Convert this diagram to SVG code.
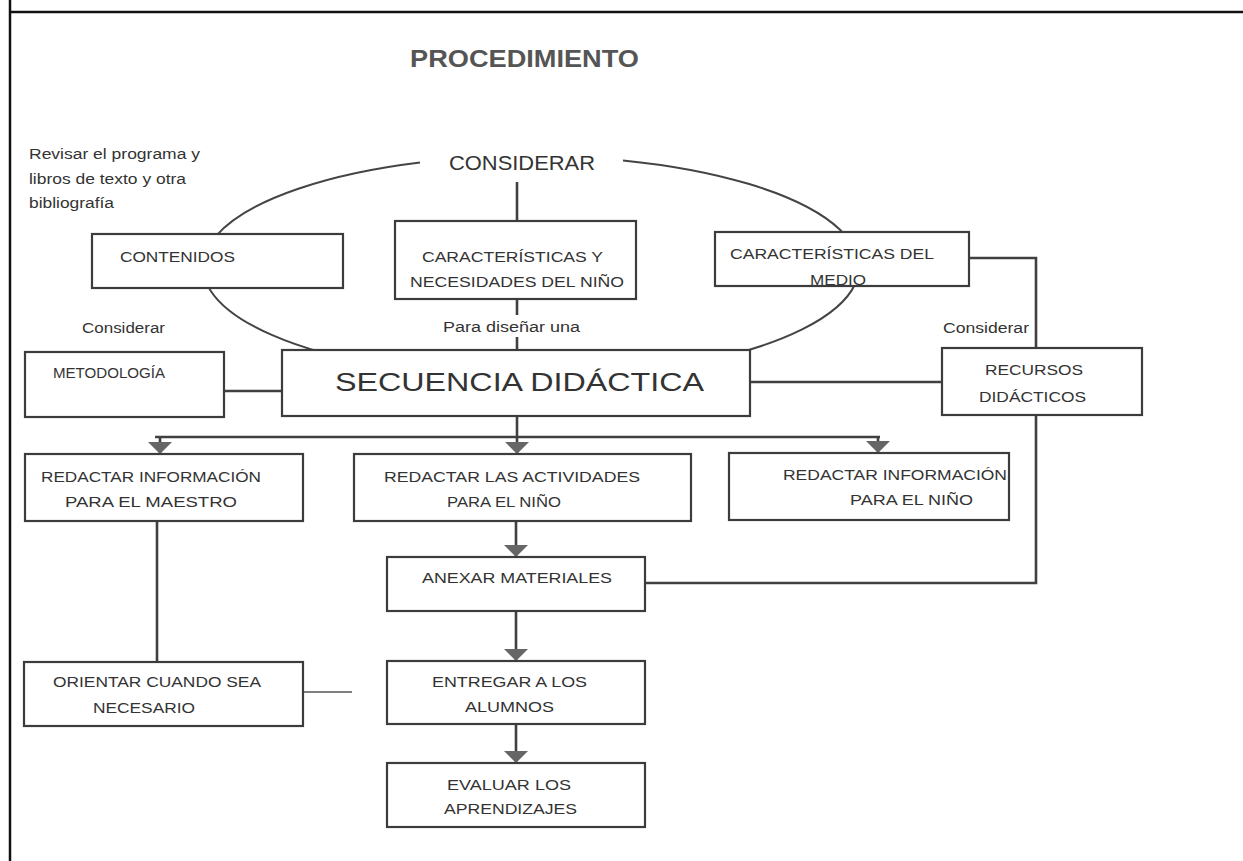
<svg xmlns="http://www.w3.org/2000/svg" width="1243" height="861" viewBox="0 0 1243 861">
<defs>
<style>
.frame{stroke:#111;stroke-width:2.5;fill:none}
.box{fill:#fff;stroke:#3c3c3c;stroke-width:2.2}
.ln{fill:none;stroke:#404040;stroke-width:2.6}
.thin{fill:none;stroke:#555;stroke-width:1.3}
.arc{fill:none;stroke:#444;stroke-width:2}
text{font-family:"Liberation Sans",Arial,sans-serif;fill:#333}
.t{font-size:14px}
.s{font-size:14px}
.title{font-size:24px;font-weight:bold;fill:#555}
.big{font-size:26px}
.cons{font-size:21px}
</style>
<marker id="ah" markerUnits="userSpaceOnUse" viewBox="0 0 12 24" markerWidth="12" markerHeight="24" refX="12" refY="12" orient="auto">
<path d="M0,0 L12,12 L0,24 z" fill="#666"/>
</marker>
</defs>
<rect width="1243" height="861" fill="#fff"/>
<g id="frame">
<line class="frame" x1="10" y1="12" x2="1243" y2="12"/>
<line class="frame" x1="10" y1="0" x2="10" y2="861"/>
</g>
<g id="labels">
<text class="title" x="410" y="67" textLength="229" lengthAdjust="spacingAndGlyphs">PROCEDIMIENTO</text>
<text class="s" x="29" y="159" textLength="171" lengthAdjust="spacingAndGlyphs">Revisar el programa y</text>
<text class="s" x="29" y="184" textLength="157" lengthAdjust="spacingAndGlyphs">libros de texto y otra</text>
<text class="s" x="29" y="208" textLength="85" lengthAdjust="spacingAndGlyphs">bibliografía</text>
<text class="cons" x="449" y="170" textLength="146" lengthAdjust="spacingAndGlyphs">CONSIDERAR</text>
<text class="s" x="82" y="333" textLength="83" lengthAdjust="spacingAndGlyphs">Considerar</text>
<text class="s" x="943" y="333" textLength="86" lengthAdjust="spacingAndGlyphs">Considerar</text>
<text class="s" x="443" y="332" textLength="137" lengthAdjust="spacingAndGlyphs">Para diseñar una</text>
</g>
<path id="ellipse" class="arc" d="M420 162.5 A328 111 0 1 0 623 160.4"/>
<g id="connectors">
<line class="ln" x1="517" y1="182" x2="517" y2="221"/>
<line class="ln" x1="517" y1="299" x2="517" y2="315"/>
<line class="ln" x1="517" y1="337" x2="517" y2="350"/>
<line class="ln" x1="224" y1="391" x2="282" y2="391"/>
<line class="ln" x1="750" y1="382" x2="942" y2="382"/>
<polyline class="ln" points="969,258 1036,258 1036,583 645,583"/>
<line class="ln" x1="517" y1="416" x2="517" y2="437"/>
<line class="ln" x1="155" y1="437" x2="880" y2="437"/>
<line class="ln" x1="160" y1="437" x2="160" y2="454" marker-end="url(#ah)"/>
<line class="ln" x1="517" y1="437" x2="517" y2="454" marker-end="url(#ah)"/>
<line class="ln" x1="878" y1="437" x2="878" y2="453" marker-end="url(#ah)"/>
<line class="ln" x1="516" y1="521" x2="516" y2="557" marker-end="url(#ah)"/>
<line class="ln" x1="516" y1="611" x2="516" y2="661" marker-end="url(#ah)"/>
<line class="ln" x1="516" y1="724" x2="516" y2="763" marker-end="url(#ah)"/>
<line class="ln" x1="157" y1="521" x2="157" y2="662"/>
<line class="thin" x1="303" y1="692" x2="352" y2="692"/>
</g>
<g id="contenidos">
<rect class="box" x="92" y="234" width="251" height="54"/>
<text class="t" x="120" y="262" textLength="115" lengthAdjust="spacingAndGlyphs">CONTENIDOS</text>
</g>
<g id="caract-nino">
<rect class="box" x="395" y="221" width="241" height="78"/>
<text class="t" x="422" y="262" textLength="181" lengthAdjust="spacingAndGlyphs">CARACTERÍSTICAS Y</text>
<text class="t" x="410" y="287" textLength="214" lengthAdjust="spacingAndGlyphs">NECESIDADES DEL NIÑO</text>
</g>
<g id="caract-medio">
<rect class="box" x="715" y="232" width="254" height="54"/>
<text class="t" x="730" y="259" textLength="204" lengthAdjust="spacingAndGlyphs">CARACTERÍSTICAS DEL</text>
<text class="t" x="810" y="285" textLength="56" lengthAdjust="spacingAndGlyphs">MEDIO</text>
</g>
<g id="metodologia">
<rect class="box" x="25" y="352" width="199" height="65"/>
<text class="t" x="53" y="378" textLength="112" lengthAdjust="spacingAndGlyphs">METODOLOGÍA</text>
</g>
<g id="secuencia">
<rect class="box" x="282" y="350" width="468" height="66"/>
<text class="big" x="335" y="391" textLength="369" lengthAdjust="spacingAndGlyphs">SECUENCIA DIDÁCTICA</text>
</g>
<g id="recursos">
<rect class="box" x="942" y="348" width="200" height="67"/>
<text class="t" x="985" y="375" textLength="98" lengthAdjust="spacingAndGlyphs">RECURSOS</text>
<text class="t" x="979" y="402" textLength="107" lengthAdjust="spacingAndGlyphs">DIDÁCTICOS</text>
</g>
<g id="info-maestro">
<rect class="box" x="25" y="454" width="278" height="67"/>
<text class="t" x="41" y="482" textLength="220" lengthAdjust="spacingAndGlyphs">REDACTAR INFORMACIÓN</text>
<text class="t" x="65" y="507" textLength="172" lengthAdjust="spacingAndGlyphs">PARA EL MAESTRO</text>
</g>
<g id="actividades">
<rect class="box" x="354" y="454" width="337" height="67"/>
<text class="t" x="384" y="482" textLength="256" lengthAdjust="spacingAndGlyphs">REDACTAR LAS ACTIVIDADES</text>
<text class="t" x="447" y="507" textLength="114" lengthAdjust="spacingAndGlyphs">PARA EL NIÑO</text>
</g>
<g id="info-nino">
<rect class="box" x="729" y="453" width="280" height="67"/>
<text class="t" x="783" y="480" textLength="224" lengthAdjust="spacingAndGlyphs">REDACTAR INFORMACIÓN</text>
<text class="t" x="850" y="505" textLength="123" lengthAdjust="spacingAndGlyphs">PARA EL NIÑO</text>
</g>
<g id="anexar">
<rect class="box" x="387" y="557" width="258" height="54"/>
<text class="t" x="422" y="583" textLength="190" lengthAdjust="spacingAndGlyphs">ANEXAR MATERIALES</text>
</g>
<g id="orientar">
<rect class="box" x="24" y="662" width="279" height="64"/>
<text class="t" x="53" y="687" textLength="208" lengthAdjust="spacingAndGlyphs">ORIENTAR CUANDO SEA</text>
<text class="t" x="93" y="713" textLength="102" lengthAdjust="spacingAndGlyphs">NECESARIO</text>
</g>
<g id="entregar">
<rect class="box" x="387" y="661" width="258" height="63"/>
<text class="t" x="432" y="687" textLength="155" lengthAdjust="spacingAndGlyphs">ENTREGAR A LOS</text>
<text class="t" x="465" y="712" textLength="89" lengthAdjust="spacingAndGlyphs">ALUMNOS</text>
</g>
<g id="evaluar">
<rect class="box" x="387" y="763" width="258" height="64"/>
<text class="t" x="447" y="790" textLength="124" lengthAdjust="spacingAndGlyphs">EVALUAR LOS</text>
<text class="t" x="444" y="814" textLength="133" lengthAdjust="spacingAndGlyphs">APRENDIZAJES</text>
</g>
</svg>
